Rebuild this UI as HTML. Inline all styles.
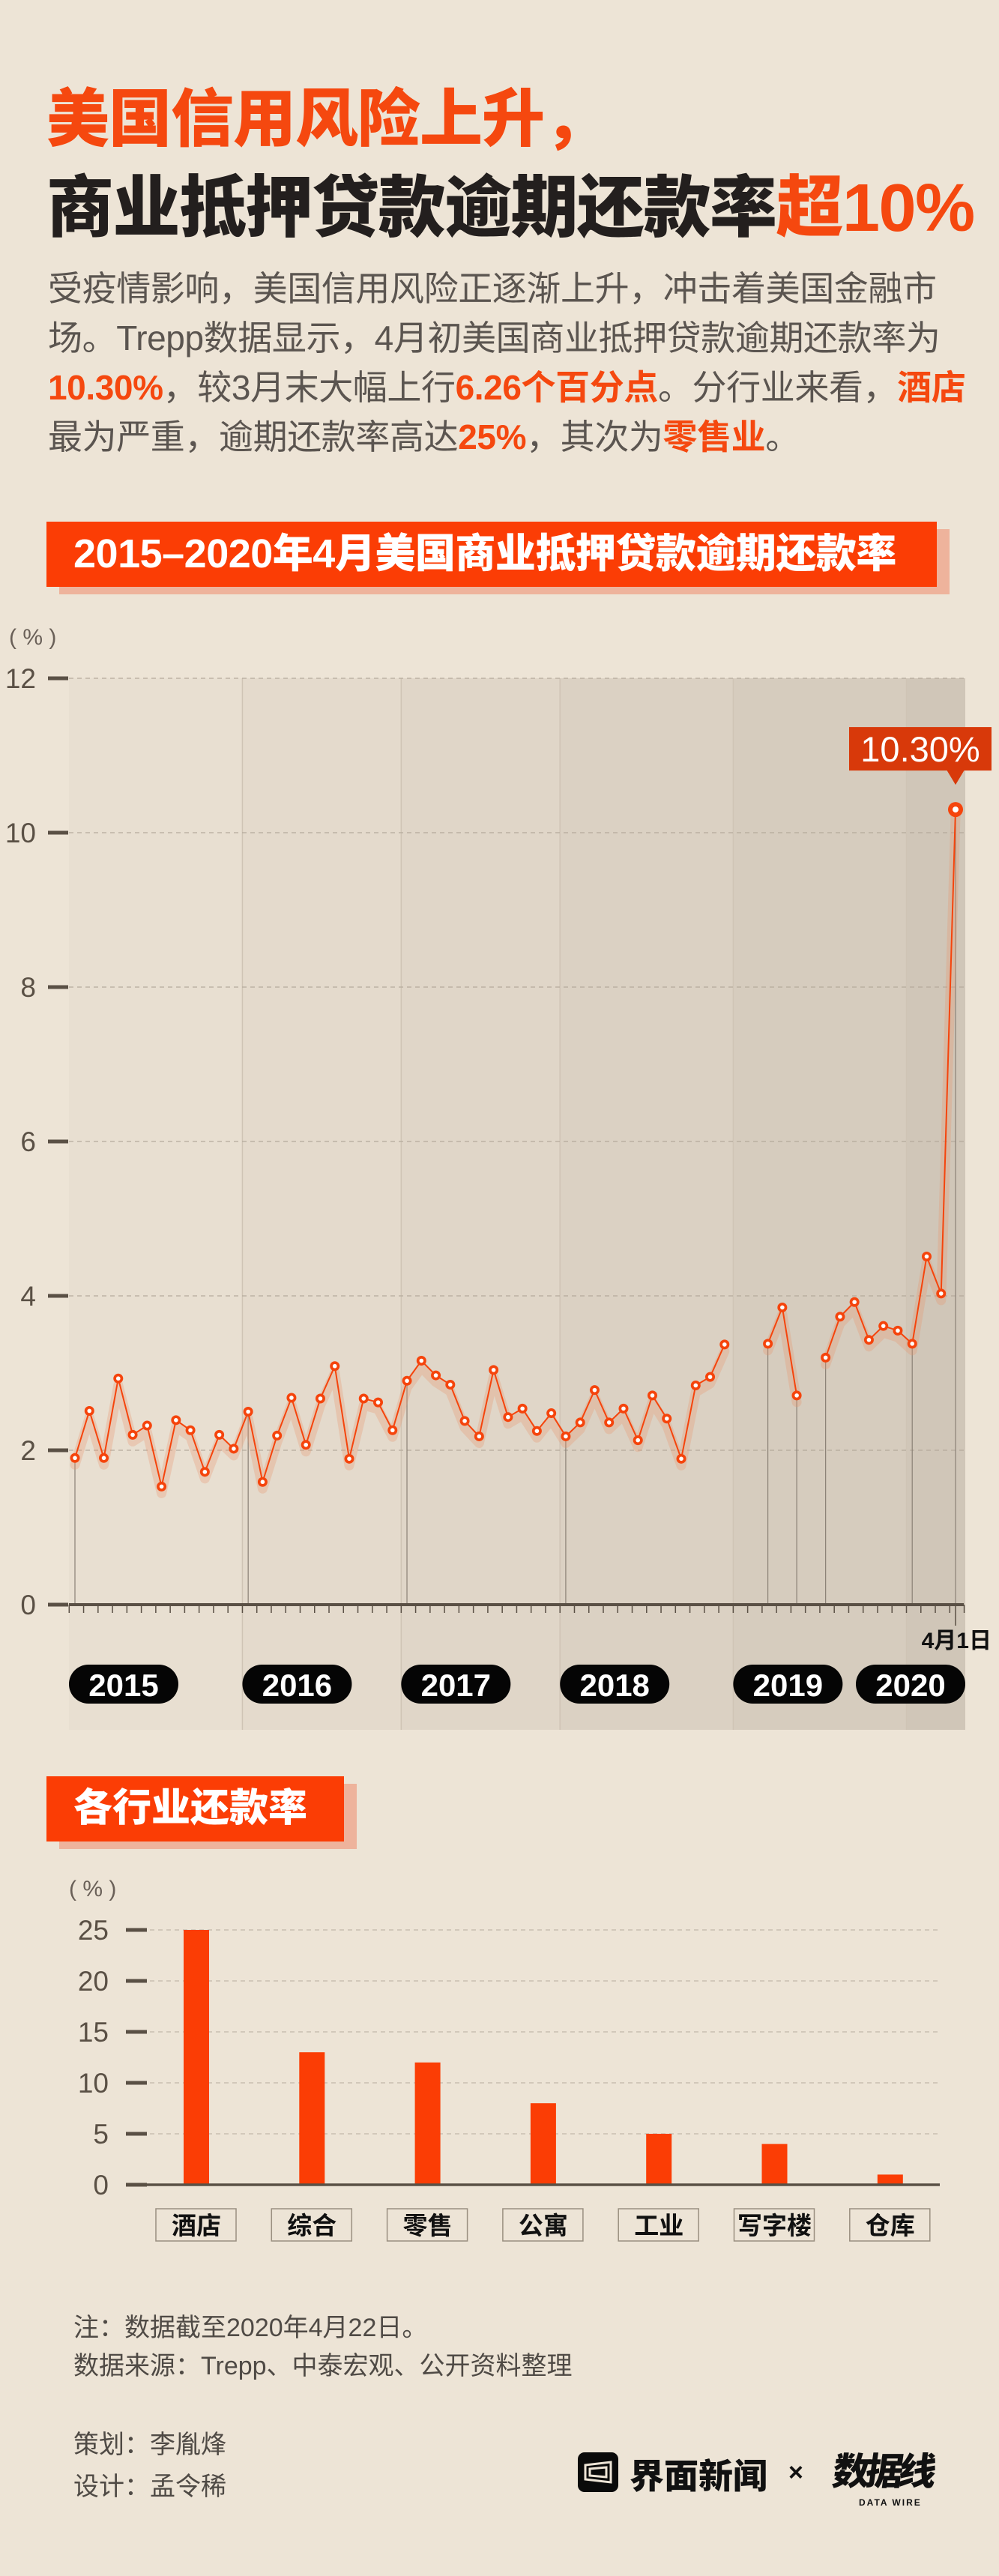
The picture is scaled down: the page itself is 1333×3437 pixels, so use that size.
<!DOCTYPE html>
<html><head><meta charset="utf-8">
<style>
*{margin:0;padding:0;box-sizing:border-box}
body{width:1333px;height:3437px;background:#ede4d6;position:relative;overflow:hidden;font-family:"Liberation Sans","Noto Sans CJK SC",sans-serif}
.abs{position:absolute}
.t1{left:62px;top:92px;font-size:84px;font-weight:900;color:#f5480f;white-space:nowrap;letter-spacing:-1px}
.t2{left:62px;top:204px;font-size:90px;font-weight:900;color:#231f1e;white-space:nowrap;letter-spacing:-1.5px}
.t2 span{color:#f5480f}
.body{left:64px;top:352px;width:1225px;font-size:46px;line-height:66px;color:#5b5550;letter-spacing:-0.4px}
.body b{color:#f5480f}
.hdr{background:#fb3d05;color:#fff;font-weight:900;white-space:nowrap}
.shadow{background:#eeb39c}
.note{left:98px;font-size:34px;color:#4f4a45;white-space:nowrap}
</style></head><body>
<div class="abs t1">美国信用风险上升，</div>
<div class="abs t2">商业抵押贷款逾期还款率<span>超10%</span></div>
<div class="abs body">受疫情影响，美国信用风险正逐渐上升，冲击着美国金融市场。Trepp数据显示，4月初美国商业抵押贷款逾期还款率为<b>10.30%</b>，较3月末大幅上行<b>6.26个百分点</b>。分行业来看，<b>酒店</b>最为严重，逾期还款率高达<b>25%</b>，其次为<b>零售业</b>。</div>

<div class="abs shadow" style="left:79px;top:706px;width:1188px;height:87px"></div>
<div class="abs hdr" style="left:62px;top:696px;width:1188px;height:87px;font-size:54px;line-height:87px;padding-left:36px;letter-spacing:-0.5px">2015–2020年4月美国商业抵押贷款逾期还款率</div>

<svg class="abs" style="left:0;top:0" width="1333" height="3437" id="chart"></svg>

<div class="abs shadow" style="left:79px;top:2380px;width:397px;height:87px"></div>
<div class="abs hdr" style="left:62px;top:2370px;width:397px;height:87px;font-size:52px;line-height:87px;padding-left:36px">各行业还款率</div>

<div class="abs note" style="top:3078px">注：数据截至2020年4月22日。</div>
<div class="abs note" style="top:3129px">数据来源：Trepp、中泰宏观、公开资料整理</div>
<div class="abs note" style="top:3234px">策划：李胤烽</div>
<div class="abs note" style="top:3290px">设计：孟令稀</div>

<div class="abs" style="left:771px;top:3272px;width:54px;height:53px;background:#0a0a0a;border-radius:9px">
<svg width="54" height="53"><path d="M10 17 L44 13 L44 40 L10 36 Z M16 22 L38 20 L38 33 L16 31 Z" fill="none" stroke="#ede4d6" stroke-width="3"/></svg></div>
<div class="abs" style="left:840px;top:3268px;font-size:46px;font-weight:900;color:#111;white-space:nowrap">界面新闻</div>
<div class="abs" style="left:1052px;top:3280px;font-size:34px;font-weight:700;color:#111">×</div>
<div class="abs" style="left:1112px;top:3258px;font-size:50px;font-weight:900;color:#111;white-space:nowrap;letter-spacing:-6px;transform:skewX(-8deg)">数据线</div>
<div class="abs" style="left:1146px;top:3332px;font-size:12px;font-weight:700;color:#111;letter-spacing:2px;white-space:nowrap">DATA WIRE</div>

<script>
const months = 62;
const rates = [1.90,2.51,1.90,2.93,2.20,2.32,1.53,2.39,2.26,1.72,2.20,2.02,
2.50,1.59,2.19,2.68,2.07,2.67,3.09,1.89,2.67,2.62,2.26,2.90,
3.16,2.97,2.85,2.38,2.18,3.04,2.43,2.54,2.25,2.48,2.18,2.36,
2.78,2.36,2.54,2.13,2.71,2.41,1.89,2.84,2.95,3.37,null,null,
3.38,3.85,2.71,null,3.20,3.73,3.92,3.43,3.61,3.55,3.38,4.51,4.03,10.30];
const dropIdx = [0,12,23,34,48,50,52,58,61];
const yTicks = [0,2,4,6,8,10,12];
const years = ['2015','2016','2017','2018','2019','2020'];
const yearStart = [-0.4,11.6,22.6,33.6,45.6,57.6];
const calloutLabel = '10.30%';
const industries = ['酒店','综合','零售','公寓','工业','写字楼','仓库'];
const industryRates = [25,13,12,8,5,4,1];
const barTicks = [0,5,10,15,20,25];

const NS='http://www.w3.org/2000/svg';
const svg=document.getElementById('chart');
function el(tag,attrs,parent){const e=document.createElementNS(NS,tag);for(const k in attrs)e.setAttribute(k,attrs[k]);(parent||svg).appendChild(e);return e;}

const X0=100,X1=1275,Y0=2141,Y1=905;
const x=i=>X0+i*(X1-X0)/(months-1);
const y=v=>Y0-(v/12)*(Y0-Y1);
const bandCols=['#e8dfd1','#e4dacc','#e0d6c8','#dbd1c3','#d6ccbe','#d0c6b8'];
for(let k=0;k<years.length;k++){
  const xa=k===0?92:x(yearStart[k]);
  const xb=k<years.length-1?x(yearStart[k+1]):1288;
  const r=el('rect',{x:xa,y:Y1,width:xb-xa,height:2308-Y1,fill:bandCols[k]});
  
  
  if(k>0){el('line',{x1:xa,y1:Y1,x2:xa,y2:2308,stroke:'#cfc4b5','stroke-width':1.5});}
}
yTicks.forEach(v=>{
  if(v>0){const g=el('line',{x1:92,y1:y(v),x2:1288,y2:y(v),stroke:'#b5aa9c','stroke-width':1.3,'stroke-dasharray':'6 5'});
  
  }
  const tk=el('line',{x1:64,y1:y(v),x2:91,y2:y(v),stroke:'#5a5045','stroke-width':5});
  
  
  const t=el('text',{x:48,y:y(v)+13,'text-anchor':'end','font-size':37,fill:'#5a5045'});
  t.textContent=v;
  
  
});
const unit=el('text',{x:12,y:860,'font-size':30,fill:'#6a6058'});unit.textContent='( % )';


dropIdx.forEach(i=>{el('line',{x1:x(i),y1:y(rates[i]),x2:x(i),y2:Y0,stroke:'#8a8075','stroke-width':1.2});});
const ax=el('line',{x1:92,y1:Y0,x2:1286,y2:Y0,stroke:'#5a5045','stroke-width':4});


for(let i=-0.4;i<months;i+=1){el('line',{x1:x(i),y1:Y0,x2:x(i),y2:Y0+11,stroke:'#5a5045','stroke-width':1.5});}
el('line',{x1:x(months-1),y1:Y0,x2:x(months-1),y2:Y0+28,stroke:'#5a5045','stroke-width':1.5});
const dl=el('text',{x:1323,y:2199,'text-anchor':'end','font-size':30,'font-weight':700,fill:'#111'});dl.textContent='4月1日';


let segs=[],cur=[];
rates.forEach((v,i)=>{if(v==null){if(cur.length)segs.push(cur);cur=[];}else cur.push([x(i),y(v)]);});
if(cur.length)segs.push(cur);
segs.forEach(s=>{const d='M'+s.map(p=>p[0]+','+(p[1]+9)).join('L');
  el('path',{d:d,fill:'none',stroke:'rgba(232,150,110,0.3)','stroke-width':13,'stroke-linejoin':'round','stroke-linecap':'round'});});
segs.forEach(s=>{const d='M'+s.map(p=>p[0]+','+p[1]).join('L');
  const p=el('path',{d:d,fill:'none',stroke:'#f5440c','stroke-width':2});
  
  });
rates.forEach((v,i)=>{if(v==null)return;
  const last=i===months-1;
  const c=el('circle',{cx:x(i),cy:y(v),r:last?10:6.5,fill:'#f5440c'});
  
  
  el('circle',{cx:x(i),cy:y(v),r:last?4:2.8,fill:'#fff'});
});
const li=months-1, cx=x(li), cy=y(rates[li]);
el('rect',{x:cx-142,y:cy-110,width:190,height:58,fill:'#d8390a'});
el('path',{d:`M${cx-12},${cy-53}L${cx+12},${cy-53}L${cx},${cy-33}Z`,fill:'#d8390a'});
const ct=el('text',{x:cx-47,y:cy-64,'text-anchor':'middle','font-size':47,fill:'#fff'});ct.textContent=calloutLabel;


years.forEach((yr,k)=>{
  let xa=k===0?92:x(yearStart[k]);
  if(k===years.length-1) xa=1288-146;
  const g=el('g',{});
  
  
  el('rect',{x:xa,y:2221,width:146,height:52,rx:26,fill:'#050505'},g);
  const t=el('text',{x:xa+73,y:2263,'text-anchor':'middle','font-size':42,'font-weight':700,fill:'#fff'},g);t.textContent=yr;
});

const BX0=170,BX1=1254,BY0=2915,BY1=2575;
const by=v=>BY0-(v/25)*(BY0-BY1);
const bx=i=>262+i*154.3;
const u2=el('text',{x:92,y:2530,'font-size':30,fill:'#6a6058'});u2.textContent='( % )';


barTicks.forEach(v=>{
  if(v>0)el('line',{x1:200,y1:by(v),x2:BX1,y2:by(v),stroke:'#c3b8aa','stroke-width':1.3,'stroke-dasharray':'6 5'});
  el('line',{x1:168,y1:by(v),x2:196,y2:by(v),stroke:'#5a5045','stroke-width':5});
  const t=el('text',{x:145,y:by(v)+13,'text-anchor':'end','font-size':37,fill:'#5a5045'});t.textContent=v;
  
  
});
industries.forEach((n,i)=>{
  const r=el('rect',{x:bx(i)-17,y:by(industryRates[i]),width:34,height:BY0-by(industryRates[i]),fill:'#fb3d05'});
  
  
  el('rect',{x:bx(i)-54,y:2947,width:107,height:43,fill:'none',stroke:'#9a8f80','stroke-width':1.5});
  const t=el('text',{x:bx(i),y:2981,'text-anchor':'middle','font-size':33,'font-weight':700,fill:'#111'});t.textContent=n;
  
  
});
el('line',{x1:170,y1:BY0,x2:BX1,y2:BY0,stroke:'#5a5045','stroke-width':3.5});
</script>
</body></html>
